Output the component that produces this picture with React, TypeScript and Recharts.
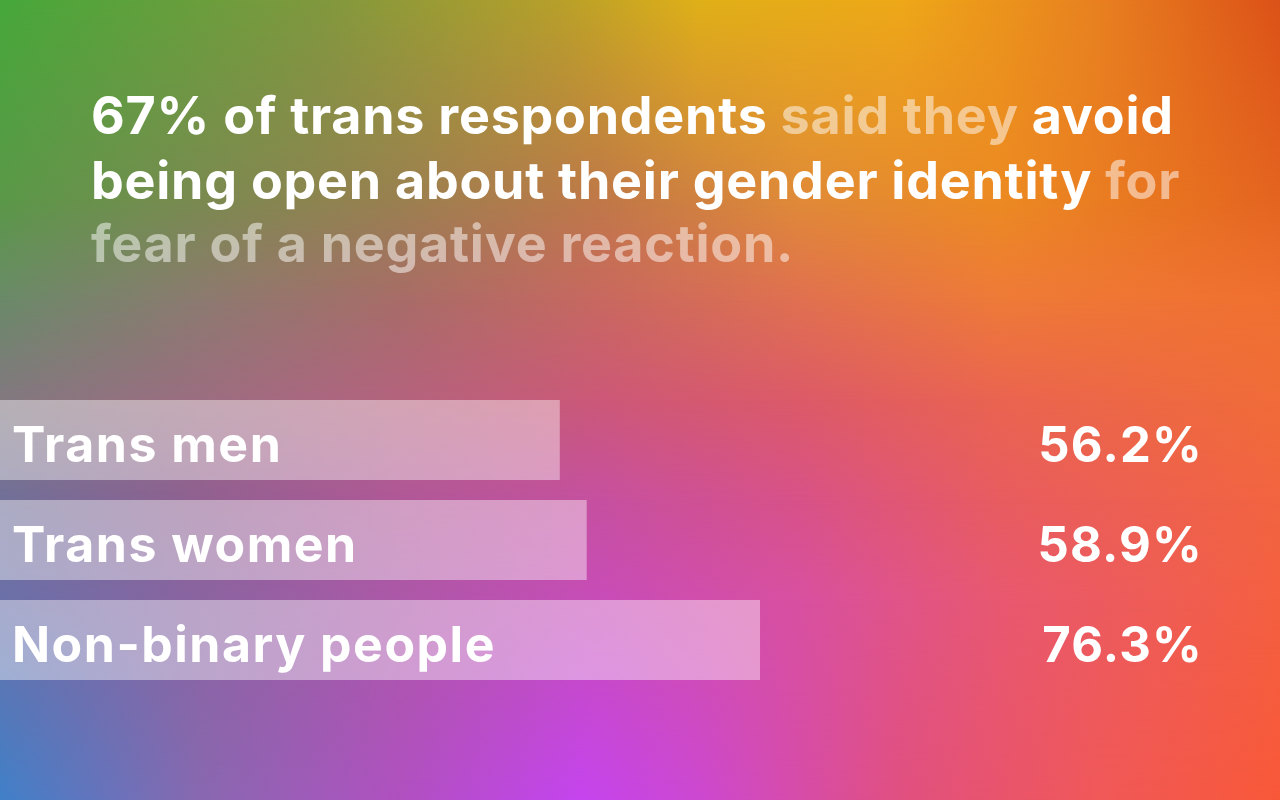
import React from "react";
import { BarChart, Bar, XAxis, YAxis, LabelList } from "recharts";

const categories = ["Trans men", "Trans women", "Non-binary people"];
const values = [56.2, 58.9, 76.3];
const valueLabels = ["56.2%", "58.9%", "76.3%"];

const titleLine1 = [
  { t: "67% of trans respondents ", faded: false },
  { t: "said they ", faded: true },
  { t: "avoid", faded: false },
];
const titleLine2 = [
  { t: "being open about their gender identity ", faded: false },
  { t: "for", faded: true },
];
const titleLine3 = [{ t: "fear of a negative reaction.", faded: true }];

const data = categories.map((name, i) => ({ name, value: values[i], label: valueLabels[i] }));

const FONT = "Inter, 'Noto Sans', sans-serif";

// background colour rows: [y, [[x, colour], ...]]
const bgRows: [number, [number, string][]][] = [
  [0, [[0, "#46a83a"], [320, "#80983e"], [560, "#b8a02a"], [700, "#e0b018"], [900, "#eea818"], [1100, "#e88020"], [1280, "#dc5218"]]],
  [200, [[0, "#5a9848"], [200, "#7a8a50"], [400, "#9a8050"], [600, "#c07848"], [800, "#e08a38"], [1000, "#ec8a22"], [1280, "#e46420"]]],
  [300, [[0, "#6a8a68"], [200, "#8c7a70"], [400, "#a86c68"], [600, "#c86860"], [800, "#e07050"], [1000, "#ee7a38"], [1280, "#f07030"]]],
  [400, [[0, "#827880"], [300, "#a86880"], [600, "#cc5878"], [800, "#dc5a68"], [1000, "#ea6450"], [1280, "#f06c38"]]],
  [500, [[0, "#707098"], [200, "#906090"], [400, "#b05898"], [600, "#c650a0"], [800, "#d85288"], [1000, "#e85c60"], [1280, "#f26440"]]],
  [600, [[0, "#6a70a8"], [200, "#8a64a0"], [400, "#ac58a8"], [600, "#c84cb8"], [800, "#d850a0"], [1000, "#e85870"], [1280, "#f46040"]]],
  [800, [[0, "#4080c8"], [200, "#8868b0"], [400, "#b050c0"], [580, "#c444ee"], [700, "#cc48d0"], [900, "#e05080"], [1100, "#f05858"], [1280, "#f85838"]]],
];

const rowGradient = (stops: [number, string][]) =>
  `linear-gradient(to right, ${stops.map(([x, c]) => `${c} ${(x / 1280) * 100}%`).join(", ")})`;

const Background = () => (
  <>
    {bgRows.map(([y, stops], i) => {
      const style: any = { position: "absolute", left: 0, top: 0, width: 1280, height: 800, background: rowGradient(stops) };
      if (i > 0) {
        const prevY = bgRows[i - 1][0];
        const mask = `linear-gradient(to bottom, transparent ${prevY}px, black ${y}px, black 800px)`;
        style.maskImage = mask;
        style.WebkitMaskImage = mask;
      }
      return <div key={i} style={style} />;
    })}
  </>
);

const NameLabel = (props: any) => {
  const { x, y, height, index } = props;
  return (
    <text x={x + 12} y={y + height / 2 + 22} fill="#ffffff" fontFamily={FONT} fontWeight={700} fontSize={50} letterSpacing={1.5} textAnchor="start">
      {categories[index]}
    </text>
  );
};

const ValueLabel = (props: any) => {
  const { y, height, index } = props;
  return (
    <text x={1203} y={y + height / 2 + 22} fill="#ffffff" fontFamily={FONT} fontWeight={700} fontSize={49} letterSpacing={1.2} textAnchor="end">
      {valueLabels[index]}
    </text>
  );
};

const Line = ({ parts, top }: { parts: { t: string; faded: boolean }[]; top: number }) => (
  <div style={{ position: "absolute", left: 91, top, whiteSpace: "pre", fontFamily: FONT, fontWeight: 700, fontSize: 52, letterSpacing: 0.75, lineHeight: "60px", color: "#fff" }}>
    {parts.map((p, i) => (
      <span key={i} style={{ color: p.faded ? "rgba(255,255,255,0.5)" : "#ffffff" }}>{p.t}</span>
    ))}
  </div>
);

export default function App() {
  return (
    <div style={{ position: "absolute", left: 0, top: 0, width: 1280, height: 800, overflow: "hidden" }}>
      <Background />
      <Line parts={titleLine1} top={86} />
      <Line parts={titleLine2} top={151} />
      <Line parts={titleLine3} top={214} />
      <div style={{ position: "absolute", left: 0, top: 0 }}>
        <BarChart width={1280} height={800} data={data} layout="vertical" margin={{ top: 390, right: 0, bottom: 110, left: 0 }} barCategoryGap={10}>
          <XAxis type="number" dataKey="value" domain={[0, 128.5]} hide />
          <YAxis type="category" dataKey="name" hide width={0} />
          <Bar dataKey="value" fill="#ffffff" fillOpacity={0.42} isAnimationActive={false}>
            <LabelList dataKey="name" content={NameLabel} />
            <LabelList dataKey="label" content={ValueLabel} />
          </Bar>
        </BarChart>
      </div>
    </div>
  );
}
